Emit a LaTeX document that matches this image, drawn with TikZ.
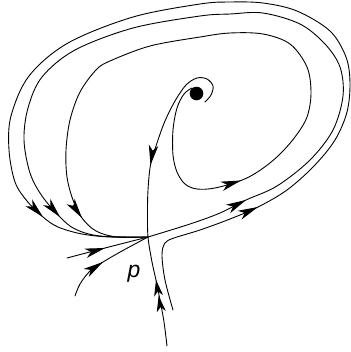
\documentclass[tikz,border=0pt]{standalone}
\usepackage{fontspec}
\setmainfont{Liberation Sans}
\usetikzlibrary{arrows.meta}
\begin{document}
\begin{tikzpicture}[x=1bp,y=-1bp,
  orbit/.style={draw=black, line width=0.9bp, line cap=round, line join=round},
  tipa/.style={draw=black, line width=0.9bp, -{Stealth[length=20bp,width=9.5bp,inset=5.5bp]}},
  tipb/.style={draw=black, line width=0.9bp, -{Stealth[length=16bp,width=9bp,inset=4.5bp]Stealth[length=16bp,width=9bp,inset=4.5bp]}},
  lbl/.style={inner sep=0pt, font=\fontsize{23}{23}\selectfont\itshape}]
\useasboundingbox (0,0) rectangle (351,352);
\coordinate (p) at (148,237);
\coordinate (f) at (196.5,93.5);
% focus
\fill[black] (f) circle (6.8);
% inner orbit: focus -> p
\draw[orbit] plot[smooth, tension=0.55] coordinates {(192,88) (184,94) (177,108) (173,130) (173,155) (177,172) (185,184) (197,189) (215,188) (241,180.5) (259,171) (278,156) (295,137) (307,117) (311,93) (307,67) (290,44) (263,34) (230,33) (200,37) (150,46) (110,61) (96,70) (80,92) (70,120) (66,150) (67,177) (73,200) (82,218) (96,231) (117,237) (148,237)};
% middle orbit: p -> p
\draw[orbit] plot[smooth, tension=0.55] coordinates {(148,237) (190,224) (220,213) (246,200) (277,186) (310,160) (333,130) (343,96) (340,67) (325,44) (300,24) (263,13) (230,14) (200,16) (133,28) (75,50) (42,77) (28,108) (24,140) (30,173) (42,196) (60,217) (75,229) (100,236) (148,237)};
% outer orbit: from lower right
\draw[orbit] plot[smooth, tension=0.55] coordinates {(173,310) (165,280) (162,255) (165,243) (174,238) (200,230) (230,219) (258,207) (287,190) (314,166) (335,140) (347,112) (350,83) (346,57) (330,31) (297,11) (263,3) (230,2) (200,4) (133,17) (68,43) (29,76) (11,116) (9,150) (15,182) (27,201) (43,217) (58,227) (82,234) (110,237) (148,237)};
% stable manifold (vertical)
\draw[orbit] plot[smooth, tension=0.55] coordinates {(205,102) (211,95) (213,86) (207,79) (197,78) (186,85) (175,101) (165,121) (157,143) (150.5,165) (148,190) (147.5,212) (148,237) (152,262) (156,280) (160,300) (164,322) (167,346)};
% left incoming straight line
\draw[orbit] plot[smooth, tension=0.5] coordinates {(67,258) (105,248) (148,237)};
% lower-left incoming curve
\draw[orbit] plot[smooth, tension=0.55] coordinates {(75,296) (80,284) (90,271) (103,262) (122,251) (148,237)};
% arrow heads
\draw[tipa] (35,209) -- (43,217);
\draw[tipa] (52,208) -- (60,217);
\draw[tipa] (73,205) -- (82,218);
\draw[tipa] (231,183.5) -- (241,180.5);
\draw[tipa] (237,204.5) -- (246,200);
\draw[tipa] (249,211) -- (258,207);
\draw[tipa] (152.5,152) -- (150.5,165);
\draw[tipb] (158,292) -- (156,280);
\draw[tipa] (94,251) -- (105,248);
\draw[tipa] (93,268.5) -- (103,262);
% label
\node[lbl] (plabel) at (134,273.5) {p};
\end{tikzpicture}
\end{document}
